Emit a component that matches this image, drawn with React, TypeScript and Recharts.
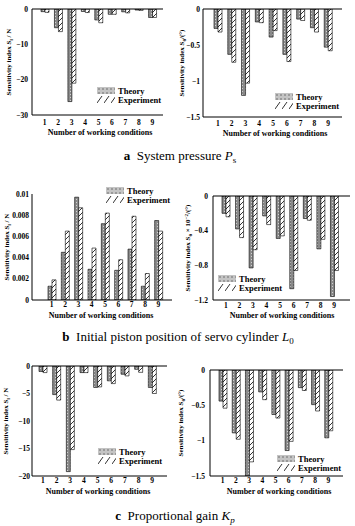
import React from "react";
import { BarChart, Bar, XAxis, YAxis, ReferenceLine, Legend } from "recharts";

const conditions = ["1", "2", "3", "4", "5", "6", "7", "8", "9"];
const seriesNames = ["Theory", "Experiment"];

// a - system pressure Ps
const psForceTheory = [-0.75, -5.3, -26.2, -0.7, -3.1, -1.5, -0.8, -0.3, -2.4];
const psForceExp = [-0.95, -6.4, -21.0, -1.0, -3.9, -1.5, -1.1, -0.4, -2.4];
const psAngleTheory = [-0.27, -0.63, -1.2, -0.18, -0.39, -0.63, -0.14, -0.26, -0.53];
const psAngleExp = [-0.32, -0.74, -1.03, -0.19, -0.3, -0.73, -0.16, -0.32, -0.58];

// b - initial piston position L0
const l0ForceTheory = [0.0013, 0.0045, 0.0097, 0.0029, 0.0072, 0.0028, 0.0048, 0.0013, 0.0075];
const l0ForceExp = [0.0019, 0.0065, 0.0087, 0.0049, 0.0082, 0.0038, 0.0079, 0.0025, 0.0065];
const l0AngleTheory = [-0.2, -0.38, -0.83, -0.23, -0.49, -1.07, -0.26, -0.61, -1.16];
const l0AngleExp = [-0.24, -0.48, -0.62, -0.33, -0.46, -0.86, -0.28, -0.5, -0.86];

// c - proportional gain Kp
const kpForceTheory = [-1.0, -5.2, -19.2, -1.2, -3.9, -2.7, -1.5, -0.6, -3.9];
const kpForceExp = [-1.2, -6.2, -15.2, -1.2, -3.8, -3.2, -1.8, -1.15, -5.0];
const kpAngleTheory = [-0.44, -0.89, -1.5, -0.31, -0.63, -1.14, -0.25, -0.49, -0.96];
const kpAngleExp = [-0.54, -0.98, -1.3, -0.42, -0.68, -1.01, -0.29, -0.58, -0.86];

const psForceTicks = [0, -10, -20, -30];
const psAngleTicks = [0, -0.5, -1, -1.5];
const l0ForceTicks = [0, 0.002, 0.004, 0.006, 0.008, 0.01];
const l0AngleTicks = [0, -0.4, -0.8, -1.2];
const kpForceTicks = [0, -5, -10, -15, -20];
const kpAngleTicks = [0, -0.5, -1, -1.5];

const serif = '"Liberation Serif", "Times New Roman", serif';

const rows = (t: number[], e: number[]) =>
  conditions.map((c, i) => ({ cond: c, theory: t[i], experiment: e[i] }));

type LabelPart = [string, number];
const forceLabel: LabelPart[] = [["Sensitivity index S", 0], ["l", 1.5], [" / N", 0]];
const angleLabel: LabelPart[] = [["Sensitivity index S", 0], ["θ", 1.5], ["/(°)", 0]];
const angleLabel2: LabelPart[] = [
  ["Sensitivity index S", 0],
  ["θ", 1.5],
  [" × 10", 0],
  ["−2", -2.5],
  ["/(°)", 0],
];

function Panel(p: any) {
  const { L, T, W, H, plot, data, domain, ticks, label, yLabelX, tickOff, xTickOff, titleOff, titleX, pad, legend } = p;
  const [px0, py0, px1, py1] = plot;
  const negative = domain[0] < 0;
  const fmt = (v: number) => String(v).replace("-", "−");
  return (
    <div style={{ position: "absolute", left: L, top: T }}>
      <BarChart
        width={W}
        height={H}
        data={data}
        margin={{ top: py0 - T, right: L + W - px1, bottom: 0, left: 0 }}
        barGap={0}
        barSize={4}
      >
        <XAxis
          dataKey="cond"
          height={T + H - py1}
          padding={pad}
          tickLine={false}
          tickSize={xTickOff}
          tickMargin={0}
          axisLine={{ stroke: "#000", strokeWidth: 1 }}
          tick={{ fontSize: 7.5, fontWeight: "bold", fill: "#000", fontFamily: serif }}
          interval={0}
          label={(lp: any) => {
            const vb = lp.viewBox;
            return (
              <text
                x={titleX - L}
                y={vb.y + titleOff}
                textAnchor="middle"
                dominantBaseline="central"
                fontFamily={serif}
                fontWeight="bold"
                fontSize={8}
                fill="#000"
              >
                Number of working conditions
              </text>
            );
          }}
        />
        <YAxis
          type="number"
          width={px0 - L}
          domain={domain}
          ticks={ticks}
          allowDataOverflow
          tickLine={false}
          tickSize={0}
          tickMargin={tickOff}
          tickFormatter={fmt}
          axisLine={{ stroke: "#000", strokeWidth: 1 }}
          tick={{ fontSize: 7.5, fontWeight: "bold", fill: "#000", fontFamily: serif }}
          label={(lp: any) => {
            const vb = lp.viewBox;
            const x = yLabelX - L;
            const y = vb.y + vb.height / 2;
            let cur = 0;
            return (
              <text
                x={x}
                y={y}
                transform={`rotate(-90, ${x}, ${y})`}
                textAnchor="middle"
                dominantBaseline="central"
                fontFamily={serif}
                fontWeight="bold"
                fontSize={7}
                fill="#000"
              >
                {label.map(([s, sh]: LabelPart, i: number) => {
                  const dy = sh - cur;
                  cur = sh;
                  return (
                    <tspan key={i} dy={dy} fontSize={sh !== 0 ? 5 : 7}>
                      {s}
                    </tspan>
                  );
                })}
              </text>
            );
          }}
        />
        {negative && <ReferenceLine y={0} stroke="#000" strokeWidth={1.2} />}
        <Legend
          layout="vertical"
          align="center"
          verticalAlign="middle"
          wrapperStyle={{ left: legend[0] - L, top: legend[1] - T, width: 90, height: 20 }}
          content={() => (
            <div style={{ fontFamily: serif, fontWeight: "bold", fontSize: 8.5, color: "#000" }}>
              {seriesNames.map((n, i) => (
                <div key={n} style={{ display: "flex", alignItems: "center", height: 9 }}>
                  <svg width={18} height={7} style={{ marginRight: 3 }}>
                    <rect width={18} height={7} fill={i === 0 ? "url(#legTheory)" : "url(#legExp)"} />
                  </svg>
                  <span>{n}</span>
                </div>
              ))}
            </div>
          )}
        />
        <Bar dataKey="theory" name={seriesNames[0]} fill="url(#hatchTheory)" stroke="#000" strokeWidth={0.6} isAnimationActive={false} />
        <Bar dataKey="experiment" name={seriesNames[1]} fill="url(#hatchExp)" stroke="#000" strokeWidth={0.6} isAnimationActive={false} />
      </BarChart>
    </div>
  );
}

function Caption({ cx, cy, children }: any) {
  return (
    <div
      style={{
        position: "absolute",
        left: cx - 160,
        top: cy - 8,
        width: 320,
        textAlign: "center",
        fontFamily: serif,
        fontSize: 13,
        lineHeight: "16px",
        color: "#000",
        whiteSpace: "nowrap",
      }}
    >
      {children}
    </div>
  );
}

const subStyle: React.CSSProperties = { fontSize: 9, position: "relative", top: 3 };

export default function App() {
  return (
    <div style={{ position: "absolute", left: 0, top: 0, width: 355, height: 526, background: "#fff" }}>
      <svg width={0} height={0} style={{ position: "absolute" }}>
        <defs>
          <pattern id="hatchTheory" width={3} height={3} patternUnits="userSpaceOnUse">
            <rect width={3} height={3} fill="#8a8a8a" />
            <rect x={1} y={1} width={1} height={1} fill="#d0d0d0" />
          </pattern>
          <pattern id="hatchExp" width={5} height={5} patternUnits="userSpaceOnUse">
            <rect width={5} height={5} fill="#fff" />
            <path d="M0,5 L5,0" stroke="#000" strokeWidth={0.8} />
          </pattern>
          <pattern id="legTheory" width={4} height={4} patternUnits="userSpaceOnUse">
            <rect width={4} height={4} fill="#c4c4c4" />
            <rect x={1} y={1} width={2} height={2} fill="#9a9a9a" />
          </pattern>
          <pattern id="legExp" width={7} height={7} patternUnits="userSpaceOnUse">
            <rect width={7} height={7} fill="#fff" />
            <path d="M0,7 L5,0" stroke="#333" strokeWidth={1} />
          </pattern>
        </defs>
      </svg>

      <Panel
        L={0} T={0} W={170} H={140} plot={[32, 9, 163, 115]}
        data={rows(psForceTheory, psForceExp)} domain={[-30, 0]} ticks={psForceTicks}
        label={forceLabel} yLabelX={9} tickOff={4} xTickOff={5} titleOff={17} titleX={100}
        pad={{ left: 6, right: 4 }} legend={[97, 86]}
      />
      <Panel
        L={175} T={0} W={175} H={140} plot={[203, 9, 342, 117]}
        data={rows(psAngleTheory, psAngleExp)} domain={[-1.5, 0]} ticks={psAngleTicks}
        label={angleLabel} yLabelX={182} tickOff={3} xTickOff={4} titleOff={16} titleX={275}
        pad={{ left: 8, right: 7 }} legend={[275, 92]}
      />
      <Caption cx={180} cy={156}>
        <b>a</b>&nbsp; System pressure <i>P</i>
        <span style={subStyle}>s</span>
      </Caption>

      <Panel
        L={0} T={180} W={177} H={140} plot={[32, 194, 172, 300]}
        data={rows(l0ForceTheory, l0ForceExp)} domain={[0, 0.01]} ticks={l0ForceTicks}
        label={forceLabel} yLabelX={7} tickOff={3} xTickOff={2} titleOff={15} titleX={101}
        pad={{ left: 13, right: 7 }} legend={[106, 186]}
      />
      <Panel
        L={175} T={180} W={180} H={140} plot={[213, 196, 350, 300]}
        data={rows(l0AngleTheory, l0AngleExp)} domain={[-1.2, 0]} ticks={l0AngleTicks}
        label={angleLabel2} yLabelX={188} tickOff={5} xTickOff={3} titleOff={15} titleX={282}
        pad={{ left: 6, right: 9 }} legend={[218, 274]}
      />
      <Caption cx={178} cy={337}>
        <b>b</b>&nbsp; Initial piston position of servo cylinder <i>L</i>
        <span style={subStyle}>0</span>
      </Caption>

      <Panel
        L={0} T={355} W={172} H={145} plot={[32, 366, 167, 476]}
        data={rows(kpForceTheory, kpForceExp)} domain={[-20, 0]} ticks={kpForceTicks}
        label={forceLabel} yLabelX={6} tickOff={2} xTickOff={2} titleOff={15} titleX={98}
        pad={{ left: 4, right: 8 }} legend={[98, 447]}
      />
      <Panel
        L={175} T={355} W={180} H={145} plot={[210, 370, 343, 476]}
        data={rows(kpAngleTheory, kpAngleExp)} domain={[-1.5, 0]} ticks={kpAngleTicks}
        label={angleLabel} yLabelX={181} tickOff={5} xTickOff={2} titleOff={15} titleX={279}
        pad={{ left: 6, right: 8 }} legend={[277, 454]}
      />
      <Caption cx={175} cy={516}>
        <b>c</b>&nbsp; Proportional gain <i>K</i>
        <i style={subStyle}>p</i>
      </Caption>
    </div>
  );
}
